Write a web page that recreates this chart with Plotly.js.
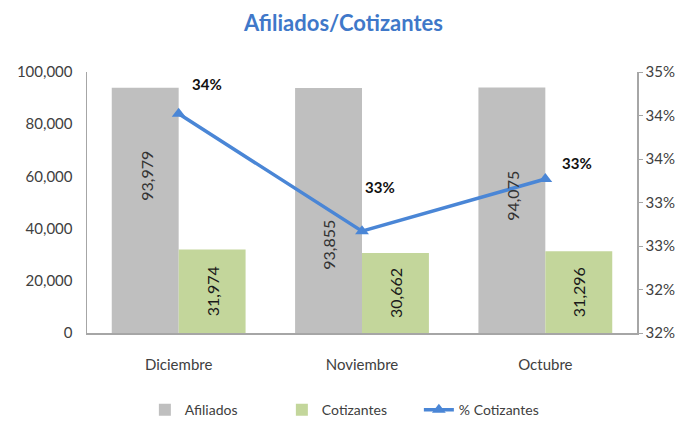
<!DOCTYPE html>
<html>
<head>
<meta charset="utf-8">
<script src="https://cdn.plot.ly/plotly-3.0.1.min.js"></script>
<style>html,body{margin:0;padding:0;background:#fff;}#chart{width:687px;height:421px;}</style>
</head>
<body>
<div id="chart"></div>
<script>
const months = ["Diciembre", "Noviembre", "Octubre"];
const afiliados = [93979, 93855, 94075];
const cotizantes = [31974, 30662, 31296];
const pctCotizantes = [34.02, 32.67, 33.27];
const pctLabels = ["34%", "33%", "33%"];
const rightTickVals = [31.5, 32, 32.5, 33, 33.5, 34, 34.5];
const rightTickText = ["32%", "32%", "33%", "33%", "34%", "34%", "35%"];

const fmt = v => v.toLocaleString("en-US");
const FONT = "Lato, 'Open Sans', sans-serif";

// label placement (layout only): fraction of bar height for Afiliados labels
const afilLabelFrac = [0.64, 0.36, 0.56];
const pctShift = [[28, 30], [18, 44], [32, 16]];

const traces = [
  {type: "bar", name: "Afiliados", x: months, y: afiliados, marker: {color: "#BFBFBF"},
   offsetgroup: "a", hoverinfo: "skip"},
  {type: "bar", name: "Cotizantes", x: months, y: cotizantes, marker: {color: "#C3D69B"},
   offsetgroup: "c", text: cotizantes.map(fmt), textposition: "inside", insidetextanchor: "middle",
   textangle: -90, textfont: {family: FONT, size: 16, color: "#1a1a1a"}, hoverinfo: "skip"},
  {type: "scatter", mode: "lines+markers", name: "% Cotizantes", x: months, y: pctCotizantes, yaxis: "y2",
   line: {color: "#4A86D6", width: 3.5}, marker: {symbol: "triangle-up", size: 12, color: "#4A86D6"},
   hoverinfo: "skip"}
];

const annotations = [];
months.forEach((m, i) => {
  annotations.push({x: m, y: afiliados[i] * afilLabelFrac[i], xref: "x", yref: "y", text: fmt(afiliados[i]),
    textangle: -90, showarrow: false, xshift: -33, font: {family: FONT, size: 16, color: "#333"}});
  annotations.push({x: m, y: pctCotizantes[i], xref: "x", yref: "y2", text: "<b>" + pctLabels[i] + "</b>",
    showarrow: false, xshift: pctShift[i][0], yshift: pctShift[i][1], font: {family: FONT, size: 15, color: "#111"}});
});

const layout = {
  width: 687, height: 421,
  margin: {l: 87, r: 50, t: 72, b: 88},
  paper_bgcolor: "#fff", plot_bgcolor: "#fff",
  title: {text: "<b>Afiliados/Cotizantes</b>", x: 0.5, xanchor: "center", y: 0.945, yanchor: "middle",
    font: {family: FONT, size: 22, color: "#3F78C9"}},
  barmode: "group", bargap: 0.27, bargroupgap: 0,
  showlegend: true,
  legend: {orientation: "h", x: 0.51, xanchor: "center", xref: "container", yref: "container",
    y: 0.026, yanchor: "middle", entrywidth: 92,
    font: {family: FONT, size: 14, color: "#404040"}, traceorder: "normal"},
  xaxis: {showline: true, linecolor: "#A6A6A6", linewidth: 1.5, showgrid: false,
    ticks: "outside", ticklen: 17, tickcolor: "rgba(0,0,0,0)", automargin: false,
    tickfont: {family: FONT, size: 15, color: "#404040"}, fixedrange: true},
  yaxis: {range: [0, 100000], tickvals: [0, 20000, 40000, 60000, 80000, 100000],
    ticktext: ["0", "20,000", "40,000", "60,000", "80,000", "100,000"],
    showline: true, linecolor: "#A6A6A6", linewidth: 1.5, showgrid: false, zeroline: false,
    ticks: "outside", ticklen: 10, tickcolor: "rgba(0,0,0,0)", automargin: false,
    tickfont: {family: FONT, size: 15, color: "#404040"}},
  yaxis2: {overlaying: "y", side: "right", range: [31.5, 34.5], tickvals: rightTickVals, ticktext: rightTickText,
    showline: true, linecolor: "#A6A6A6", linewidth: 1.5, showgrid: false, zeroline: false,
    ticks: "outside", ticklen: 4, tickcolor: "#A6A6A6", automargin: false,
    tickfont: {family: FONT, size: 15, color: "#404040"}},
  annotations: annotations
};

Plotly.newPlot("chart", traces, layout, {displayModeBar: false, staticPlot: true});
</script>
</body>
</html>
